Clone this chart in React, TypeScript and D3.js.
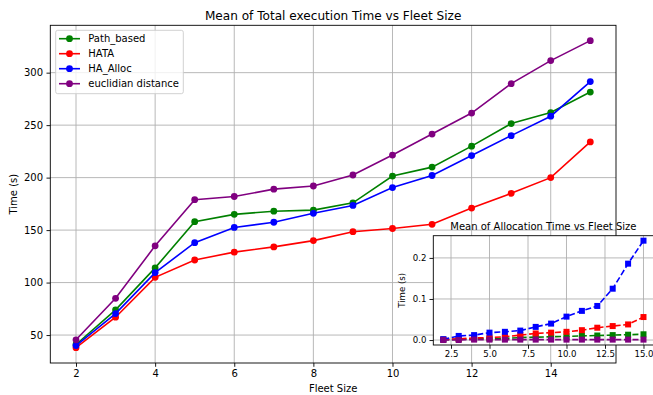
import React, { useEffect, useRef } from 'react';
import * as d3 from 'd3';

// fleet sizes on the x axis
const fleetSizes = [2, 3, 4, 5, 6, 7, 8, 9, 10, 11, 12, 13, 14, 15];

// mean total execution time (s)
const pathBased = [41, 74, 114, 158, 165, 168, 169, 176, 201.5, 210, 230, 251.5, 262, 281.5];
const hata = [38, 67, 105, 121.5, 129, 134, 140, 148.5, 151.5, 155.5, 171, 185, 200, 234];
const haAlloc = [40, 70.5, 109.5, 138, 152.5, 157.5, 166, 173.5, 190.5, 202, 221, 240, 258.5, 291.5];
const euclidian = [45.5, 85, 135, 179, 182, 189, 192, 202.5, 221.5, 241.5, 261.5, 289.5, 311.5, 330.5];

// mean allocation time (s)
const pathBasedAlloc = [0.001, 0.002, 0.003, 0.003, 0.004, 0.006, 0.007, 0.008, 0.009, 0.010, 0.011, 0.012, 0.013, 0.014];
const hataAlloc = [0.001, 0.003, 0.005, 0.006, 0.008, 0.012, 0.016, 0.018, 0.020, 0.024, 0.030, 0.034, 0.038, 0.056];
const haAllocAlloc = [0.002, 0.010, 0.012, 0.018, 0.020, 0.023, 0.032, 0.040, 0.057, 0.071, 0.083, 0.125, 0.186, 0.242];
const euclidianAlloc = [0.0, 0.0, 0.001, 0.001, 0.001, 0.001, 0.001, 0.001, 0.001, 0.001, 0.001, 0.001, 0.001, 0.001];

const seriesNames = ['Path_based', 'HATA', 'HA_Alloc', 'euclidian distance'];
const seriesColors = ['green', 'red', 'blue', 'purple'];

const mainTicksX = [2, 4, 6, 8, 10, 12, 14];
const mainTicksY = [50, 100, 150, 200, 250, 300];
const insetTicksX = [2.5, 5.0, 7.5, 10.0, 12.5, 15.0];
const insetTicksY = [0.0, 0.1, 0.2];

const FONT = 'DejaVu Sans, sans-serif';
const GRID = '#b0b0b0';

// matplotlib style 5% margins
const padded = (vals: number[]) => {
    const lo = d3.min(vals) as number;
    const hi = d3.max(vals) as number;
    const m = (hi - lo) * 0.05;
    return [lo - m, hi + m];
};

const App = () => {
    const svgRef = useRef<SVGSVGElement>(null);

    useEffect(() => {
        const svg = d3.select(svgRef.current);
        svg.selectAll('*').remove();

        const W = 653, H = 395;
        svg.append('rect').attr('width', W).attr('height', H).attr('fill', 'white');

        // ---------- main axes ----------
        const m = { left: 50.3, right: 616, top: 25.3, bottom: 363 };
        const mainSeries = [pathBased, hata, haAlloc, euclidian];

        const x = d3.scaleLinear().domain(padded(fleetSizes)).range([m.left, m.right]);
        const y = d3.scaleLinear().domain(padded(mainSeries.flat())).range([m.bottom, m.top]);

        const g = svg.append('g');

        // grid
        g.selectAll('.vgrid').data(mainTicksX).enter().append('line')
            .attr('x1', d => x(d)).attr('x2', d => x(d))
            .attr('y1', m.top).attr('y2', m.bottom)
            .attr('stroke', GRID).attr('stroke-width', 0.9);
        g.selectAll('.hgrid').data(mainTicksY).enter().append('line')
            .attr('x1', m.left).attr('x2', m.right)
            .attr('y1', d => y(d)).attr('y2', d => y(d))
            .attr('stroke', GRID).attr('stroke-width', 0.9);

        const line = d3.line<number>()
            .x((d, i) => x(fleetSizes[i]))
            .y(d => y(d));

        mainSeries.forEach((vals, si) => {
            g.append('path').attr('d', line(vals))
                .attr('fill', 'none').attr('stroke', seriesColors[si]).attr('stroke-width', 1.6);
            g.selectAll(null).data(vals).enter().append('circle')
                .attr('cx', (d, i) => x(fleetSizes[i]))
                .attr('cy', d => y(d))
                .attr('r', 3.4)
                .attr('fill', seriesColors[si]);
        });

        // spines
        g.append('rect')
            .attr('x', m.left).attr('y', m.top)
            .attr('width', m.right - m.left).attr('height', m.bottom - m.top)
            .attr('fill', 'none').attr('stroke', 'black').attr('stroke-width', 0.9);

        // axes
        const xAxis = g.append('g').attr('transform', `translate(0,${m.bottom})`)
            .call(d3.axisBottom(x).tickValues(mainTicksX).tickSize(3.8).tickPadding(3.5).tickFormat(d3.format('d')));
        const yAxis = g.append('g').attr('transform', `translate(${m.left},0)`)
            .call(d3.axisLeft(y).tickValues(mainTicksY).tickSize(3.8).tickPadding(3.5).tickFormat(d3.format('d')));
        [xAxis, yAxis].forEach(a => {
            a.select('.domain').remove();
            a.selectAll('text').attr('font-family', FONT).attr('font-size', 10).attr('fill', 'black');
            a.selectAll('line').attr('stroke', 'black').attr('stroke-width', 0.9);
        });

        svg.append('text')
            .attr('x', (m.left + m.right) / 2).attr('y', 19.5)
            .attr('text-anchor', 'middle')
            .attr('font-family', FONT).attr('font-size', 12.1)
            .text('Mean of Total execution Time vs Fleet Size');
        svg.append('text')
            .attr('x', (m.left + m.right) / 2).attr('y', 392)
            .attr('text-anchor', 'middle')
            .attr('font-family', FONT).attr('font-size', 10)
            .text('Fleet Size');
        svg.append('text')
            .attr('transform', `translate(17,${(m.top + m.bottom) / 2}) rotate(-90)`)
            .attr('text-anchor', 'middle')
            .attr('font-family', FONT).attr('font-size', 10)
            .text('Time (s)');

        // legend
        const lg = svg.append('g').attr('transform', 'translate(55.7,30.3)');
        lg.append('rect')
            .attr('width', 127.6).attr('height', 63.4).attr('rx', 2)
            .attr('fill', 'white').attr('fill-opacity', 0.8)
            .attr('stroke', '#cccccc').attr('stroke-width', 0.9);
        seriesNames.forEach((name, i) => {
            const yy = 8.4 + i * 15;
            lg.append('line').attr('x1', 3.3).attr('x2', 24.3).attr('y1', yy).attr('y2', yy)
                .attr('stroke', seriesColors[i]).attr('stroke-width', 1.6);
            lg.append('circle').attr('cx', 13.8).attr('cy', yy).attr('r', 3.4).attr('fill', seriesColors[i]);
            lg.append('text').attr('x', 32.6).attr('y', yy).attr('dy', '0.35em')
                .attr('font-family', FONT).attr('font-size', 10).text(name);
        });

        // ---------- inset axes ----------
        const n = { left: 433.3, right: 653.5, top: 235.7, bottom: 345 };
        const insetSeries = [pathBasedAlloc, hataAlloc, haAllocAlloc, euclidianAlloc];

        const xi = d3.scaleLinear().domain(padded(fleetSizes)).range([n.left, n.right]);
        const yi = d3.scaleLinear().domain(padded(insetSeries.flat())).range([n.bottom, n.top]);

        const ig = svg.append('g');
        ig.append('rect')
            .attr('x', n.left).attr('y', n.top)
            .attr('width', n.right - n.left).attr('height', n.bottom - n.top)
            .attr('fill', 'white');

        ig.selectAll('.vgrid').data(insetTicksX).enter().append('line')
            .attr('x1', d => xi(d)).attr('x2', d => xi(d))
            .attr('y1', n.top).attr('y2', n.bottom)
            .attr('stroke', GRID).attr('stroke-width', 0.9);
        ig.selectAll('.hgrid').data(insetTicksY).enter().append('line')
            .attr('x1', n.left).attr('x2', n.right)
            .attr('y1', d => yi(d)).attr('y2', d => yi(d))
            .attr('stroke', GRID).attr('stroke-width', 0.9);

        const iline = d3.line<number>()
            .x((d, i) => xi(fleetSizes[i]))
            .y(d => yi(d));

        const sq = 6;
        insetSeries.forEach((vals, si) => {
            ig.append('path').attr('d', iline(vals))
                .attr('fill', 'none').attr('stroke', seriesColors[si]).attr('stroke-width', 1.6)
                .attr('stroke-dasharray', '6,2.6');
            ig.selectAll(null).data(vals).enter().append('rect')
                .attr('x', (d, i) => xi(fleetSizes[i]) - sq / 2)
                .attr('y', d => yi(d) - sq / 2)
                .attr('width', sq).attr('height', sq)
                .attr('fill', seriesColors[si]);
        });

        ig.append('rect')
            .attr('x', n.left).attr('y', n.top)
            .attr('width', n.right - n.left).attr('height', n.bottom - n.top)
            .attr('fill', 'none').attr('stroke', 'black').attr('stroke-width', 0.9);

        const xiAxis = ig.append('g').attr('transform', `translate(0,${n.bottom})`)
            .call(d3.axisBottom(xi).tickValues(insetTicksX).tickSize(3.8).tickPadding(2.5).tickFormat(d3.format('.1f')));
        const yiAxis = ig.append('g').attr('transform', `translate(${n.left},0)`)
            .call(d3.axisLeft(yi).tickValues(insetTicksY).tickSize(3.8).tickPadding(3).tickFormat(d3.format('.1f')));
        [xiAxis, yiAxis].forEach(a => {
            a.select('.domain').remove();
            a.selectAll('text').attr('font-family', FONT).attr('font-size', 8.6).attr('fill', 'black');
            a.selectAll('line').attr('stroke', 'black').attr('stroke-width', 0.9);
        });

        svg.append('text')
            .attr('x', (n.left + n.right) / 2).attr('y', 230.3)
            .attr('text-anchor', 'middle')
            .attr('font-family', FONT).attr('font-size', 10)
            .text('Mean of Allocation Time vs Fleet Size');
        svg.append('text')
            .attr('transform', `translate(405,${(n.top + n.bottom) / 2}) rotate(-90)`)
            .attr('text-anchor', 'middle')
            .attr('font-family', FONT).attr('font-size', 8.6)
            .text('Time (s)');
    }, []);

    return (
        <div style={{ position: 'absolute', left: 0, top: 0 }}>
            <svg ref={svgRef} width={653} height={395} style={{ display: 'block' }}></svg>
        </div>
    );
};

export default App;
